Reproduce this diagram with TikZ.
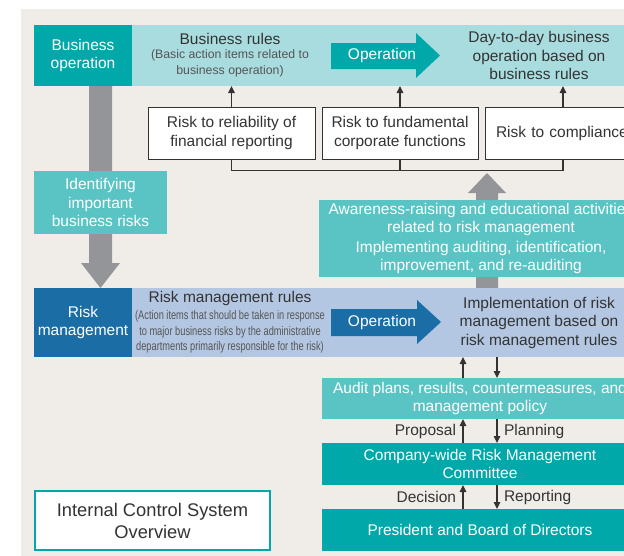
\documentclass[tikz,border=0pt]{standalone}
\usepackage{fontspec}
\usepackage{graphicx}
\setmainfont{Liberation Sans}
\usetikzlibrary{arrows.meta}
\definecolor{panelbg}{HTML}{F0EDE9}
\definecolor{darkteal}{HTML}{00A8A9}
\definecolor{lightband}{HTML}{A9DCDF}
\definecolor{midteal}{HTML}{5AC4C5}
\definecolor{darkblue}{HTML}{1B6DA6}
\definecolor{periwinkle}{HTML}{B4C7E2}
\definecolor{bigarrow}{HTML}{939598}
\definecolor{txt}{HTML}{333333}
\definecolor{subtxt}{HTML}{555555}
\begin{document}
\begin{tikzpicture}[x=1pt,y=-1pt,
  every node/.style={inner sep=0pt, outer sep=0pt, text=txt},
  mainf/.style={font=\fontsize{15.5}{18.5}\selectfont},
  box/.style={mainf, align=center, minimum width=#1},
  fillbox/.style={draw=none},
  riskbox/.style={mainf, align=center, fill=white, draw=txt, line width=0.9pt, minimum height=52pt},
  conn/.style={draw=txt, line width=1.1pt},
  arr/.style={conn, -{Triangle[width=6.5pt,length=7pt]}},
  lbl/.style={mainf}
]
\useasboundingbox (0,0) rectangle (624,555);
\begin{scope}
\clip (0,0) rectangle (624,555);
\fill[white] (0,0) rectangle (624,555);
\fill[panelbg] (21,9) rectangle (650,560);

% big gray arrows (drawn first, behind boxes)
\fill[bigarrow] (89,86) -- (112,86) -- (112,263) -- (120,263) -- (100.5,288) -- (81,263) -- (89,263) -- cycle;
\fill[bigarrow] (476,288) -- (498,288) -- (498,193) -- (506,193) -- (487,173) -- (468,193) -- (476,193) -- cycle;

% top row
\node[box=98pt, minimum height=61pt, fill=darkteal, text=white] (bizop) at (83,55.5) {Business\\operation};
\node[minimum width=510pt, minimum height=61pt, fill=lightband] (bizband) at (387,55.5) {};
\node[mainf] (brtitle) at (230,38.5) {Business rules};
\node[align=center, text=subtxt, font=\fontsize{12.3}{16}\selectfont] (brsub) at (230,63) {(Basic action items related to\\business operation)};
\fill[darkteal] (331,43) -- (416,43) -- (416,33) -- (440,55.5) -- (416,78) -- (416,69) -- (331,69) -- cycle;
\node[mainf, text=white] (opA) at (382,55.5) {Operation};
\node[box=170pt] (daytoday) at (539,55.5) {Day-to-day business\\operation based on\\business rules};

% risk boxes
\node[riskbox, minimum width=167pt] (r1) at (231.5,133) {Risk to reliability of\\financial reporting};
\node[riskbox, minimum width=156pt] (r2) at (400,133) {Risk to fundamental\\corporate functions};
\node[riskbox, minimum width=156pt, text width=156pt] (r3) at (563,133) {\hspace*{11pt}Risk to compliance\hfill\null};
\coordinate (jl) at (231.5,170.5);
\draw[conn] (r1.south) -- (r1.south |- jl) -- (r3.south |- jl) -- (r3.south);
\draw[conn] (r2.south) -- (r2.south |- jl);
\draw[arr] (r1.north) -- (r1.north |- bizband.south);
\draw[arr] (r2.north) -- (r2.north |- bizband.south);
\draw[arr] (r3.north) -- (r3.north |- bizband.south);

% identifying
\node[box=133pt, minimum height=63pt, fill=midteal, text=white] (ident) at (100.5,202.5) {Identifying\\important\\business risks};

% awareness
\node[box=324pt, minimum height=77pt, fill=midteal, text=white, font=\fontsize{15.5}{18}\selectfont] (aware) at (481,238.5) {Awareness-raising and educational activities\\related to risk management\\[2pt]Implementing auditing, identification,\\improvement, and re-auditing};

% risk management row
\node[box=98pt, minimum height=69pt, fill=darkblue, text=white] (riskmgmt) at (83,322.5) {Risk\\management};
\node[minimum width=510pt, minimum height=69pt, fill=periwinkle] (riskband) at (387,322.5) {};
\node[mainf] (rmtitle) at (230,298.5) {Risk management rules};
\node[text=subtxt, font=\fontsize{12.5}{15.5}\selectfont] (rmsub) at (230,332) {\scalebox{0.74}[1]{\begin{tabular}{@{}c@{}}(Action items that should be taken in response\\to major business risks by the administrative\\departments primarily responsible for the risk)\end{tabular}}};
\fill[darkblue] (331,309) -- (417,309) -- (417,300) -- (441,322) -- (417,344) -- (417,336) -- (331,336) -- cycle;
\node[mainf, text=white] (opB) at (382,322.5) {Operation};
\node[box=170pt] (impl) at (539,322.5) {Implementation of risk\\management based on\\risk management rules};

% lower column
\node[box=316pt, minimum height=41pt, fill=midteal, text=white] (audit) at (480,398.5) {Audit plans, results, countermeasures, and\\management policy};
\node[box=316pt, minimum height=42pt, fill=darkteal, text=white] (committee) at (480,464) {Company-wide Risk Management\\Committee};
\node[box=316pt, minimum height=42pt, fill=darkteal, text=white] (president) at (480,530) {President and Board of Directors};

\coordinate (ux) at (463,0);
\coordinate (dx) at (497,0);
\draw[arr] (ux |- audit.north) -- (ux |- riskband.south);
\draw[arr] (dx |- riskband.south) -- (dx |- audit.north);
\draw[arr] (ux |- committee.north) -- (ux |- audit.south);
\draw[arr] (dx |- audit.south) -- (dx |- committee.north);
\draw[arr] (ux |- president.north) -- (ux |- committee.south);
\draw[arr] (dx |- committee.south) -- (dx |- president.north);
\node[lbl, anchor=east] (proposal) at (456,431) {Proposal};
\node[lbl, anchor=west] (planning) at (504,431) {Planning};
\node[lbl, anchor=east] (decision) at (456,497) {Decision};
\node[lbl, anchor=west] (reporting) at (504,497) {Reporting};

% title box
\node[align=center, fill=white, draw=darkteal, line width=2pt, minimum width=235pt, minimum height=59pt, font=\fontsize{18.3}{22}\selectfont] (icso) at (152.5,520.5) {Internal Control System\\Overview};
\end{scope}
\end{tikzpicture}
\end{document}
